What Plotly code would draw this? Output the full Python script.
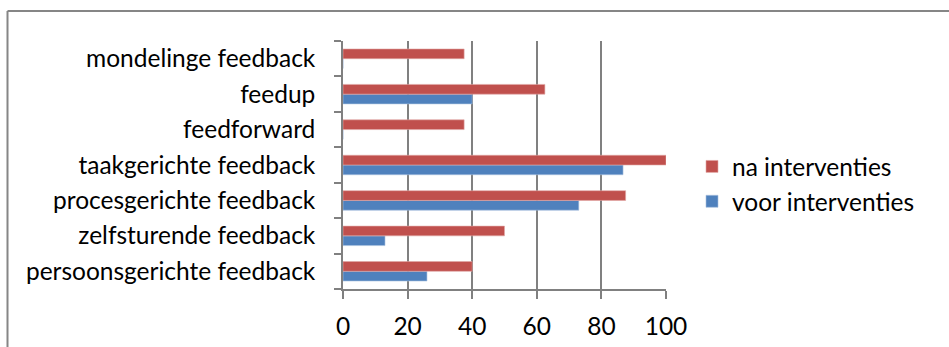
import plotly.graph_objects as go

categories = [
    "persoonsgerichte feedback",
    "zelfsturende feedback",
    "procesgerichte feedback",
    "taakgerichte feedback",
    "feedforward",
    "feedup",
    "mondelinge feedback",
]
voor_interventies = [26, 13, 73, 86.7, 0, 40, 0]
na_interventies = [40, 50, 87.5, 100, 37.5, 62.5, 37.5]
x_ticks = [0, 20, 40, 60, 80, 100]

FONT = "Lato"
FS = 24.5
W, H = 949, 347
L, R, T, B = 343, 666, 41, 289

fig = go.Figure()
fig.add_trace(go.Bar(
    y=categories, x=voor_interventies, orientation="h", name="voor interventies",
    marker=dict(color="#4F81BD", line=dict(color="#A7BFDE", width=0.6)),
    legendgroup="voor", legendrank=2,
))
fig.add_trace(go.Bar(
    y=categories, x=na_interventies, orientation="h", name="na interventies",
    marker=dict(color="#C0504D", line=dict(color="#E0A8A6", width=0.6)),
    legendgroup="na", legendrank=1,
))

pw = R - L
ph = B - T
def px2x(px):
    return (px - L) / pw
def px2y(py):
    return 1 - (py - T) / ph

fig.update_layout(
    width=W, height=H,
    margin=dict(l=L, r=W - R, t=T, b=H - B, pad=0, autoexpand=False),
    paper_bgcolor="white", plot_bgcolor="white",
    barmode="group", bargap=0.45, bargroupgap=0,
    font=dict(family=FONT, size=FS, color="#000000"),
    showlegend=True,
    legend=dict(
        x=px2x(692), y=px2y(184), xanchor="left", yanchor="middle",
        traceorder="grouped", tracegroupgap=0,
        font=dict(family=FONT, size=FS, color="#000000"),
        bgcolor="rgba(0,0,0,0)",
    ),
    xaxis=dict(
        range=[0, 100], tickvals=x_ticks, ticktext=[str(v) for v in x_ticks],
        showgrid=True, gridcolor="#808080", gridwidth=1.6,
        showline=True, linecolor="#808080", linewidth=1.6,
        ticks="outside", ticklen=8, tickcolor="#808080", tickwidth=1.6,
        ticklabelstandoff=7, zeroline=False, fixedrange=True, automargin=False,
    ),
    yaxis=dict(
        categoryorder="array", categoryarray=categories,
        showgrid=False, showline=True, linecolor="#808080", linewidth=1.6,
        ticks="outside", ticklen=7, tickcolor="#808080", tickwidth=1.6,
        tickson="boundaries", ticklabelstandoff=21, fixedrange=True, automargin=False,
    ),
    shapes=[
        dict(type="line", xref="paper", yref="paper",
             x0=px2x(7.5), x1=px2x(7.5), y0=px2y(11), y1=px2y(360),
             line=dict(color="#868686", width=2)),
        dict(type="line", xref="paper", yref="paper",
             x0=px2x(7.5), x1=px2x(960), y0=px2y(11), y1=px2y(11),
             line=dict(color="#868686", width=2)),
    ],
)

fig.write_html("out.html", config={"displayModeBar": False},
               post_script="document.body.style.margin='0px';")
